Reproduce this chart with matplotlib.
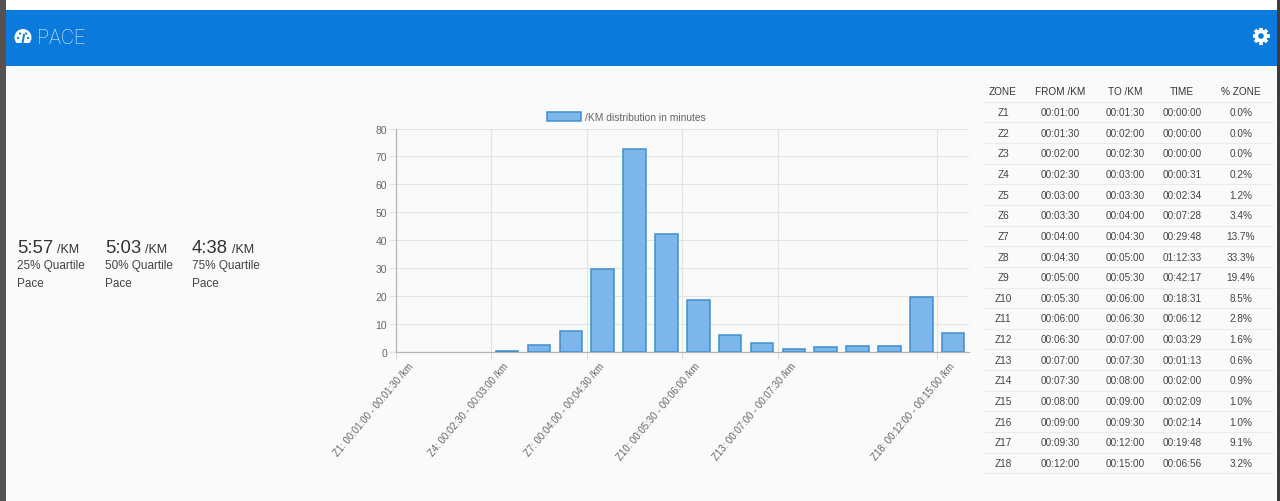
import numpy as np
import matplotlib
matplotlib.use("Agg")
import matplotlib.pyplot as plt
from matplotlib.patches import Circle, Rectangle
from matplotlib.transforms import ScaledTranslation

plt.rcParams['font.family'] = ['Liberation Sans', 'DejaVu Sans']

# table / chart data
zones = ["Z1", "Z2", "Z3", "Z4", "Z5", "Z6", "Z7", "Z8", "Z9", "Z10", "Z11", "Z12", "Z13", "Z14", "Z15", "Z16", "Z17", "Z18"]
from_km = ["00:01:00", "00:01:30", "00:02:00", "00:02:30", "00:03:00", "00:03:30", "00:04:00", "00:04:30", "00:05:00",
           "00:05:30", "00:06:00", "00:06:30", "00:07:00", "00:07:30", "00:08:00", "00:09:00", "00:09:30", "00:12:00"]
to_km = ["00:01:30", "00:02:00", "00:02:30", "00:03:00", "00:03:30", "00:04:00", "00:04:30", "00:05:00", "00:05:30",
         "00:06:00", "00:06:30", "00:07:00", "00:07:30", "00:08:00", "00:09:00", "00:09:30", "00:12:00", "00:15:00"]
times = ["00:00:00", "00:00:00", "00:00:00", "00:00:31", "00:02:34", "00:07:28", "00:29:48", "01:12:33", "00:42:17",
         "00:18:31", "00:06:12", "00:03:29", "00:01:13", "00:02:00", "00:02:09", "00:02:14", "00:19:48", "00:06:56"]
pct_zone = ["0.0%", "0.0%", "0.0%", "0.2%", "1.2%", "3.4%", "13.7%", "33.3%", "19.4%",
            "8.5%", "2.8%", "1.6%", "0.6%", "0.9%", "1.0%", "1.0%", "9.1%", "3.2%"]
minutes = [0, 0, 0, 0.52, 2.57, 7.47, 29.8, 72.55, 42.28, 18.52, 6.2, 3.48, 1.22, 2.0, 2.15, 2.23, 19.8, 6.93]

table_headers = ["ZONE", "FROM /KM", "TO /KM", "TIME", "% ZONE"]
quartile_paces = ["5:57", "5:03", "4:38"]
quartile_names = ["25% Quartile", "50% Quartile", "75% Quartile"]
shown_ticks = [0, 3, 6, 9, 12, 17]

W, H = 1280, 502
BG = "#fafafa"
BLUE = "#0a7bdc"
TEXT = "#444444"
PX = 72 / 100  # css px to points

fig = plt.figure(figsize=(W / 100, H / 100), dpi=100, facecolor=BG)

# page chrome in pixel coordinates
page = fig.add_axes([0, 0, 1, 1])
page.set_xlim(0, W)
page.set_ylim(H, 0)
page.axis("off")
page.add_patch(Rectangle((0, 0), W, 10.5, color="white", lw=0))
page.add_patch(Rectangle((0, 10.5), W, 56, color=BLUE, lw=0))
page.add_patch(Rectangle((0, 0), 6, H, color="#55524f", lw=0))
page.add_patch(Rectangle((1277, 0), 3, H, color="#3c3c3c", lw=0))

# gauge icon
page.add_patch(Circle((23, 38.5), 8.5, color="white", lw=0, zorder=2))
page.add_patch(Rectangle((14, 44), 18, 5, color=BLUE, lw=0, zorder=2))
for px, py in [(18, 39), (20, 34.5), (26, 34.5), (28, 39)]:
    page.add_patch(Circle((px, py), 1.1, color=BLUE, lw=0, zorder=3))
page.plot([22.5, 24], [44, 36], color=BLUE, lw=1.4, zorder=3)

page.text(37, 39, "PACE", color="#e8f3fd", fontsize=20 * PX, va="center", ha="left", family="Roboto", weight="light")

# gear icon
for ang in np.arange(0, 180, 45):
    dx, dy = 8.5 * np.cos(np.radians(ang)), 8.5 * np.sin(np.radians(ang))
    page.plot([1261 - dx, 1261 + dx], [37 - dy, 37 + dy], color="white", lw=2.6, solid_capstyle="butt", zorder=1.5)
page.add_patch(Circle((1261, 37), 6.5, color="white", lw=0, zorder=2))
page.add_patch(Circle((1261, 37), 2.8, color=BLUE, lw=0, zorder=3))

# quartile block
for x, pace, name in zip([17, 105, 192], quartile_paces, quartile_names):
    page.text(x, 253, pace, color="#333333", fontsize=18.5 * PX, va="baseline", ha="left")
    page.text(x + 40, 253, "/KM", color="#333333", fontsize=12.5 * PX, va="baseline", ha="left")
    page.text(x, 269, name, color=TEXT, fontsize=11.7 * PX, va="baseline", ha="left")
    page.text(x, 287, "Pace", color=TEXT, fontsize=11.7 * PX, va="baseline", ha="left")

# zone table
col_x = [1003, 1060, 1125, 1182, 1241]
row_h = 20.65
for x, head in zip(col_x, table_headers):
    page.text(x, 92, head, color="#333333", fontsize=10 * PX, ha="center", va="center")
for i in range(len(zones)):
    y = 113 + i * row_h
    page.plot([984, 1272], [y - row_h / 2, y - row_h / 2], color="#ebebeb", lw=0.8)
    row = [zones[i], from_km[i], to_km[i], times[i], pct_zone[i]]
    for x, val in zip(col_x, row):
        page.text(x, y, val, color=TEXT, fontsize=10 * PX, ha="center", va="center")
page.plot([984, 1272], [113 + 17.5 * row_h] * 2, color="#ebebeb", lw=0.8)

# bar chart
left, right, top, bottom = 395.7, 969, 129.5, 353.3
ax = fig.add_axes([left / W, 1 - bottom / H, (right - left) / W, (bottom - top) / H])
ax.patch.set_alpha(0)
pos = np.arange(len(zones))
bar_lw = [1.1 if m > 0 else 0 for m in minutes]
ax.bar(pos, minutes, width=0.71, color="#7db6eb", edgecolor="#3f8fcb", linewidth=bar_lw,
       label="/KM distribution in minutes", zorder=3)
ax.set_xlim(-0.5, len(zones) - 0.5)
ax.set_ylim(0, 80)
ax.set_yticks(np.arange(0, 81, 10))
ax.tick_params(axis="y", length=7 * PX, width=0.8, color="#e4e4e4", labelcolor="#666666", labelsize=10.4 * PX, pad=1)

labels = [f"{zones[i]}: {from_km[i]} - {to_km[i]} /km" for i in shown_ticks]
ax.set_xticks(pos[shown_ticks])
ax.set_xticklabels(labels, rotation=50, ha="right", va="top", rotation_mode="anchor",
                   fontsize=9.7 * PX, color="#666666")
ax.tick_params(axis="x", which="major", length=0, pad=5)
ax.set_xticks(pos[shown_ticks] - 0.5, minor=True)
ax.tick_params(axis="x", which="minor", length=7 * PX, width=0.8, color="#dddddd")
ax.grid(axis="y", color="#e4e4e4", lw=0.8, zorder=0)
ax.grid(axis="x", which="minor", color="#e4e4e4", lw=0.8, zorder=0)
ax.grid(axis="x", which="major", visible=False)
for side in ["top", "right"]:
    ax.spines[side].set_visible(False)
for side in ["left", "bottom"]:
    ax.spines[side].set_color("#b5b5b5")
    ax.spines[side].set_linewidth(0.9)
ax.set_axisbelow(True)

# nudge rotated labels so their ends sit where the reference has them
nudge = ScaledTranslation(-4 / 100, -1 / 100, fig.dpi_scale_trans)
for lab in ax.get_xticklabels():
    lab.set_transform(lab.get_transform() + nudge)

leg = ax.legend(loc="lower left", bbox_to_anchor=(547 / W, 1 - 123 / H), bbox_transform=fig.transFigure,
                frameon=False, fontsize=10.2 * PX, labelcolor="#666666", handlelength=3.3, handleheight=1.1,
                handletextpad=0.4, borderpad=0, borderaxespad=0)
for handle in leg.get_patches():
    handle.set_linewidth(1.1)

fig.savefig("out.png", dpi=100, facecolor=BG)
